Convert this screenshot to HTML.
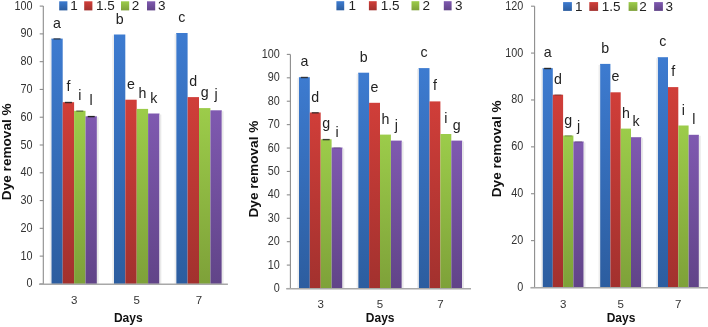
<!DOCTYPE html>
<html><head><meta charset="utf-8"><style>
html,body{margin:0;padding:0;background:#fff;}
body{width:708px;height:327px;overflow:hidden;}
svg{display:block;will-change:transform;}
text{font-family:"Liberation Sans",sans-serif;fill:#222;}
.dl{font-size:14.2px;text-anchor:middle;}
.yl{font-size:12.3px;text-anchor:end;fill:#333;}
.xl{font-size:11.5px;text-anchor:middle;fill:#333;}
.tt{font-size:12px;font-weight:bold;text-anchor:middle;fill:#111;}
.yt{font-size:12.6px;}
.lg{font-size:13.5px;fill:#222;}
.ax{stroke:#8c8c8c;stroke-width:1.1;}
.xax{stroke:#a8a8a8;stroke-width:1.5;}
</style></head><body>
<svg width="708" height="327" viewBox="0 0 708 327">
<defs>
<linearGradient id="g_blue" x1="0" y1="0" x2="0" y2="1"><stop offset="0" stop-color="#3d7bd0"/><stop offset="1" stop-color="#2c5d9f"/></linearGradient>
<linearGradient id="g_red" x1="0" y1="0" x2="0" y2="1"><stop offset="0" stop-color="#d03e39"/><stop offset="1" stop-color="#a2312e"/></linearGradient>
<linearGradient id="g_green" x1="0" y1="0" x2="0" y2="1"><stop offset="0" stop-color="#9ccc4a"/><stop offset="1" stop-color="#7ea139"/></linearGradient>
<linearGradient id="g_purple" x1="0" y1="0" x2="0" y2="1"><stop offset="0" stop-color="#7f59b0"/><stop offset="1" stop-color="#614488"/></linearGradient>
</defs>
<rect width="708" height="327" fill="#fff"/>
<rect x="51.3" y="38.6" width="11.4" height="245.3" fill="url(#g_blue)"/>
<rect x="62.7" y="102.2" width="11.4" height="181.7" fill="url(#g_red)"/>
<rect x="74.1" y="110.8" width="11.4" height="173.1" fill="url(#g_green)"/>
<rect x="85.5" y="116.3" width="11.4" height="167.6" fill="url(#g_purple)"/>
<rect x="49.7" y="39.6" width="1.6" height="244.3" fill="#eeeeee"/>
<rect x="96.9" y="117.3" width="1.8" height="166.6" fill="#e9e9e9"/>
<rect x="113.9" y="34.5" width="11.4" height="249.4" fill="url(#g_blue)"/>
<rect x="125.3" y="99.7" width="11.4" height="184.2" fill="url(#g_red)"/>
<rect x="136.7" y="108.9" width="11.4" height="175" fill="url(#g_green)"/>
<rect x="148.1" y="113.5" width="11.4" height="170.4" fill="url(#g_purple)"/>
<rect x="112.3" y="35.5" width="1.6" height="248.4" fill="#eeeeee"/>
<rect x="159.5" y="114.5" width="1.8" height="169.4" fill="#e9e9e9"/>
<rect x="176.2" y="33" width="11.4" height="250.9" fill="url(#g_blue)"/>
<rect x="187.6" y="97.1" width="11.4" height="186.8" fill="url(#g_red)"/>
<rect x="199" y="108.1" width="11.4" height="175.8" fill="url(#g_green)"/>
<rect x="210.4" y="110.3" width="11.4" height="173.6" fill="url(#g_purple)"/>
<rect x="174.6" y="34" width="1.6" height="249.9" fill="#eeeeee"/>
<rect x="221.8" y="111.3" width="1.8" height="172.6" fill="#e9e9e9"/>
<rect x="53.5" y="38.2" width="7" height="1.4" fill="#222" opacity="0.7"/>
<rect x="64.9" y="101.8" width="7" height="1.4" fill="#222" opacity="0.9"/>
<rect x="76.3" y="110.4" width="7" height="1.4" fill="#222" opacity="0.55"/>
<rect x="87.7" y="115.9" width="7" height="1.4" fill="#222" opacity="1.0"/>
<text x="57" y="27.6" class="dl">a</text>
<text x="68.4" y="91.2" class="dl">f</text>
<text x="79.8" y="99.8" class="dl">i</text>
<text x="91.2" y="105.3" class="dl">l</text>
<text x="119.6" y="23.5" class="dl">b</text>
<text x="131" y="88.7" class="dl">e</text>
<text x="142.4" y="97.9" class="dl">h</text>
<text x="153.8" y="102.5" class="dl">k</text>
<text x="181.9" y="22" class="dl">c</text>
<text x="193.3" y="86.1" class="dl">d</text>
<text x="204.7" y="97.1" class="dl">g</text>
<text x="216.1" y="99.3" class="dl">j</text>
<line x1="43.3" y1="6.1" x2="43.3" y2="283.9" class="ax"/>
<line x1="39.7" y1="283.9" x2="43.3" y2="283.9" class="ax"/>
<text transform="translate(32.6,287.4) scale(0.88,1)" class="yl">0</text>
<line x1="39.7" y1="256.12" x2="43.3" y2="256.12" class="ax"/>
<text transform="translate(32.6,259.62) scale(0.88,1)" class="yl">10</text>
<line x1="39.7" y1="228.34" x2="43.3" y2="228.34" class="ax"/>
<text transform="translate(32.6,231.84) scale(0.88,1)" class="yl">20</text>
<line x1="39.7" y1="200.56" x2="43.3" y2="200.56" class="ax"/>
<text transform="translate(32.6,204.06) scale(0.88,1)" class="yl">30</text>
<line x1="39.7" y1="172.78" x2="43.3" y2="172.78" class="ax"/>
<text transform="translate(32.6,176.28) scale(0.88,1)" class="yl">40</text>
<line x1="39.7" y1="145" x2="43.3" y2="145" class="ax"/>
<text transform="translate(32.6,148.5) scale(0.88,1)" class="yl">50</text>
<line x1="39.7" y1="117.22" x2="43.3" y2="117.22" class="ax"/>
<text transform="translate(32.6,120.72) scale(0.88,1)" class="yl">60</text>
<line x1="39.7" y1="89.44" x2="43.3" y2="89.44" class="ax"/>
<text transform="translate(32.6,92.94) scale(0.88,1)" class="yl">70</text>
<line x1="39.7" y1="61.66" x2="43.3" y2="61.66" class="ax"/>
<text transform="translate(32.6,65.16) scale(0.88,1)" class="yl">80</text>
<line x1="39.7" y1="33.88" x2="43.3" y2="33.88" class="ax"/>
<text transform="translate(32.6,37.38) scale(0.88,1)" class="yl">90</text>
<line x1="39.7" y1="6.1" x2="43.3" y2="6.1" class="ax"/>
<text transform="translate(32.6,9.6) scale(0.88,1)" class="yl">100</text>
<line x1="39.1" y1="284.2" x2="227.9" y2="284.2" class="xax"/>
<text x="74.1" y="303.6" class="xl">3</text>
<text x="136.7" y="303.6" class="xl">5</text>
<text x="199" y="303.6" class="xl">7</text>
<text x="128.3" y="322.4" class="tt">Days</text>
<text transform="translate(11,151.75) rotate(-90) scale(1.08,1)" x="0" y="0" class="tt yt">Dye removal %</text>
<rect x="59.2" y="1.3" width="8.2" height="9.1" fill="url(#g_blue)"/>
<text x="70.3" y="10" class="lg">1</text>
<rect x="84.2" y="1.3" width="8.2" height="9.1" fill="url(#g_red)"/>
<text x="96.1" y="10" class="lg">1.5</text>
<rect x="121" y="1.3" width="8.2" height="9.1" fill="url(#g_green)"/>
<text x="131.7" y="10" class="lg">2</text>
<rect x="147" y="1.3" width="8.2" height="9.1" fill="url(#g_purple)"/>
<text x="158" y="10" class="lg">3</text>
<rect x="298.9" y="77.2" width="10.9" height="211.3" fill="url(#g_blue)"/>
<rect x="309.8" y="112.5" width="10.9" height="176" fill="url(#g_red)"/>
<rect x="320.7" y="139.3" width="10.9" height="149.2" fill="url(#g_green)"/>
<rect x="331.6" y="147.5" width="10.9" height="141" fill="url(#g_purple)"/>
<rect x="297.3" y="78.2" width="1.6" height="210.3" fill="#eeeeee"/>
<rect x="342.5" y="148.5" width="1.8" height="140" fill="#e9e9e9"/>
<rect x="358.2" y="72.7" width="10.9" height="215.8" fill="url(#g_blue)"/>
<rect x="369.1" y="102.8" width="10.9" height="185.7" fill="url(#g_red)"/>
<rect x="380" y="134.6" width="10.9" height="153.9" fill="url(#g_green)"/>
<rect x="390.9" y="140.6" width="10.9" height="147.9" fill="url(#g_purple)"/>
<rect x="356.6" y="73.7" width="1.6" height="214.8" fill="#eeeeee"/>
<rect x="401.8" y="141.6" width="1.8" height="146.9" fill="#e9e9e9"/>
<rect x="418.6" y="68.1" width="10.9" height="220.4" fill="url(#g_blue)"/>
<rect x="429.5" y="101.4" width="10.9" height="187.1" fill="url(#g_red)"/>
<rect x="440.4" y="134" width="10.9" height="154.5" fill="url(#g_green)"/>
<rect x="451.3" y="140.6" width="10.9" height="147.9" fill="url(#g_purple)"/>
<rect x="417" y="69.1" width="1.6" height="219.4" fill="#eeeeee"/>
<rect x="462.2" y="141.6" width="1.8" height="146.9" fill="#e9e9e9"/>
<rect x="300.85" y="76.8" width="7" height="1.4" fill="#222" opacity="0.85"/>
<rect x="311.75" y="112.1" width="7" height="1.4" fill="#222" opacity="0.8"/>
<rect x="322.65" y="138.9" width="7" height="1.4" fill="#222" opacity="0.85"/>
<rect x="333.55" y="147.1" width="7" height="1.4" fill="#222" opacity="0.25"/>
<text x="304.35" y="66.2" class="dl">a</text>
<text x="315.25" y="101.5" class="dl">d</text>
<text x="326.15" y="128.3" class="dl">g</text>
<text x="337.05" y="136.5" class="dl">i</text>
<text x="363.65" y="61.7" class="dl">b</text>
<text x="374.55" y="91.8" class="dl">e</text>
<text x="385.45" y="123.6" class="dl">h</text>
<text x="396.35" y="129.6" class="dl">j</text>
<text x="424.05" y="57.1" class="dl">c</text>
<text x="434.95" y="90.4" class="dl">f</text>
<text x="445.85" y="123" class="dl">i</text>
<text x="456.75" y="129.6" class="dl">g</text>
<line x1="290.4" y1="54.4" x2="290.4" y2="288.5" class="ax"/>
<line x1="286.8" y1="288.5" x2="290.4" y2="288.5" class="ax"/>
<text transform="translate(279.9,292) scale(0.88,1)" class="yl">0</text>
<line x1="286.8" y1="265.09" x2="290.4" y2="265.09" class="ax"/>
<text transform="translate(279.9,268.59) scale(0.88,1)" class="yl">10</text>
<line x1="286.8" y1="241.68" x2="290.4" y2="241.68" class="ax"/>
<text transform="translate(279.9,245.18) scale(0.88,1)" class="yl">20</text>
<line x1="286.8" y1="218.27" x2="290.4" y2="218.27" class="ax"/>
<text transform="translate(279.9,221.77) scale(0.88,1)" class="yl">30</text>
<line x1="286.8" y1="194.86" x2="290.4" y2="194.86" class="ax"/>
<text transform="translate(279.9,198.36) scale(0.88,1)" class="yl">40</text>
<line x1="286.8" y1="171.45" x2="290.4" y2="171.45" class="ax"/>
<text transform="translate(279.9,174.95) scale(0.88,1)" class="yl">50</text>
<line x1="286.8" y1="148.04" x2="290.4" y2="148.04" class="ax"/>
<text transform="translate(279.9,151.54) scale(0.88,1)" class="yl">60</text>
<line x1="286.8" y1="124.63" x2="290.4" y2="124.63" class="ax"/>
<text transform="translate(279.9,128.13) scale(0.88,1)" class="yl">70</text>
<line x1="286.8" y1="101.22" x2="290.4" y2="101.22" class="ax"/>
<text transform="translate(279.9,104.72) scale(0.88,1)" class="yl">80</text>
<line x1="286.8" y1="77.81" x2="290.4" y2="77.81" class="ax"/>
<text transform="translate(279.9,81.31) scale(0.88,1)" class="yl">90</text>
<line x1="286.8" y1="54.4" x2="290.4" y2="54.4" class="ax"/>
<text transform="translate(279.9,57.9) scale(0.88,1)" class="yl">100</text>
<line x1="286.2" y1="288.8" x2="471" y2="288.8" class="xax"/>
<text x="320.7" y="308.3" class="xl">3</text>
<text x="380" y="308.3" class="xl">5</text>
<text x="440.4" y="308.3" class="xl">7</text>
<text x="380.15" y="322.4" class="tt">Days</text>
<text transform="translate(258.4,169.1) rotate(-90) scale(1.08,1)" x="0" y="0" class="tt yt">Dye removal %</text>
<rect x="336.4" y="1.2" width="7.8" height="9.1" fill="url(#g_blue)"/>
<text x="348.6" y="9.8" class="lg">1</text>
<rect x="368.9" y="1.2" width="7.8" height="9.1" fill="url(#g_red)"/>
<text x="380.7" y="9.8" class="lg">1.5</text>
<rect x="411.5" y="1.2" width="7.8" height="9.1" fill="url(#g_green)"/>
<text x="422.6" y="9.8" class="lg">2</text>
<rect x="443.8" y="1.2" width="7.8" height="9.1" fill="url(#g_purple)"/>
<text x="454.9" y="9.8" class="lg">3</text>
<rect x="542.5" y="68.2" width="10.3" height="219.3" fill="url(#g_blue)"/>
<rect x="552.8" y="94.7" width="10.3" height="192.8" fill="url(#g_red)"/>
<rect x="563.1" y="135.5" width="10.3" height="152" fill="url(#g_green)"/>
<rect x="573.4" y="141.5" width="10.3" height="146" fill="url(#g_purple)"/>
<rect x="540.9" y="69.2" width="1.6" height="218.3" fill="#eeeeee"/>
<rect x="583.7" y="142.5" width="1.8" height="145" fill="#e9e9e9"/>
<rect x="600.1" y="63.9" width="10.3" height="223.6" fill="url(#g_blue)"/>
<rect x="610.4" y="92.3" width="10.3" height="195.2" fill="url(#g_red)"/>
<rect x="620.7" y="128.6" width="10.3" height="158.9" fill="url(#g_green)"/>
<rect x="631" y="137.2" width="10.3" height="150.3" fill="url(#g_purple)"/>
<rect x="598.5" y="64.9" width="1.6" height="222.6" fill="#eeeeee"/>
<rect x="641.3" y="138.2" width="1.8" height="149.3" fill="#e9e9e9"/>
<rect x="657.7" y="57.2" width="10.3" height="230.3" fill="url(#g_blue)"/>
<rect x="668" y="87.1" width="10.3" height="200.4" fill="url(#g_red)"/>
<rect x="678.3" y="125.5" width="10.3" height="162" fill="url(#g_green)"/>
<rect x="688.6" y="134.8" width="10.3" height="152.7" fill="url(#g_purple)"/>
<rect x="656.1" y="58.2" width="1.6" height="229.3" fill="#eeeeee"/>
<rect x="698.9" y="135.8" width="1.8" height="151.7" fill="#e9e9e9"/>
<rect x="544.15" y="67.8" width="7" height="1.4" fill="#222" opacity="0.95"/>
<rect x="554.45" y="94.3" width="7" height="1.4" fill="#222" opacity="0.35"/>
<rect x="564.75" y="135.1" width="7" height="1.4" fill="#222" opacity="0.3"/>
<rect x="575.05" y="141.1" width="7" height="1.4" fill="#222" opacity="0.25"/>
<text x="547.65" y="57.2" class="dl">a</text>
<text x="557.95" y="83.7" class="dl">d</text>
<text x="568.25" y="124.5" class="dl">g</text>
<text x="578.55" y="130.5" class="dl">j</text>
<text x="605.25" y="52.9" class="dl">b</text>
<text x="615.55" y="81.3" class="dl">e</text>
<text x="625.85" y="117.6" class="dl">h</text>
<text x="636.15" y="126.2" class="dl">k</text>
<text x="662.85" y="46.2" class="dl">c</text>
<text x="673.15" y="76.1" class="dl">f</text>
<text x="683.45" y="114.5" class="dl">i</text>
<text x="693.75" y="123.8" class="dl">l</text>
<line x1="534.6" y1="6.2" x2="534.6" y2="287.5" class="ax"/>
<line x1="531" y1="287.5" x2="534.6" y2="287.5" class="ax"/>
<text transform="translate(523.4,291) scale(0.88,1)" class="yl">0</text>
<line x1="531" y1="240.62" x2="534.6" y2="240.62" class="ax"/>
<text transform="translate(523.4,244.12) scale(0.88,1)" class="yl">20</text>
<line x1="531" y1="193.73" x2="534.6" y2="193.73" class="ax"/>
<text transform="translate(523.4,197.23) scale(0.88,1)" class="yl">40</text>
<line x1="531" y1="146.85" x2="534.6" y2="146.85" class="ax"/>
<text transform="translate(523.4,150.35) scale(0.88,1)" class="yl">60</text>
<line x1="531" y1="99.97" x2="534.6" y2="99.97" class="ax"/>
<text transform="translate(523.4,103.47) scale(0.88,1)" class="yl">80</text>
<line x1="531" y1="53.08" x2="534.6" y2="53.08" class="ax"/>
<text transform="translate(523.4,56.58) scale(0.88,1)" class="yl">100</text>
<line x1="531" y1="6.2" x2="534.6" y2="6.2" class="ax"/>
<text transform="translate(523.4,9.7) scale(0.88,1)" class="yl">120</text>
<line x1="530.4" y1="287.8" x2="708" y2="287.8" class="xax"/>
<text x="563.1" y="308" class="xl">3</text>
<text x="620.7" y="308" class="xl">5</text>
<text x="678.3" y="308" class="xl">7</text>
<text x="621" y="322.4" class="tt">Days</text>
<text transform="translate(501,148.85) rotate(-90) scale(1.08,1)" x="0" y="0" class="tt yt">Dye removal %</text>
<rect x="563.1" y="2.1" width="8.8" height="8.8" fill="url(#g_blue)"/>
<text x="575.1" y="10.9" class="lg">1</text>
<rect x="589.3" y="2.1" width="8.8" height="8.8" fill="url(#g_red)"/>
<text x="601.7" y="10.9" class="lg">1.5</text>
<rect x="628.6" y="2.1" width="8.8" height="8.8" fill="url(#g_green)"/>
<text x="639.3" y="10.9" class="lg">2</text>
<rect x="654.1" y="2.1" width="8.8" height="8.8" fill="url(#g_purple)"/>
<text x="665.4" y="10.9" class="lg">3</text>
</svg>
</body></html>
